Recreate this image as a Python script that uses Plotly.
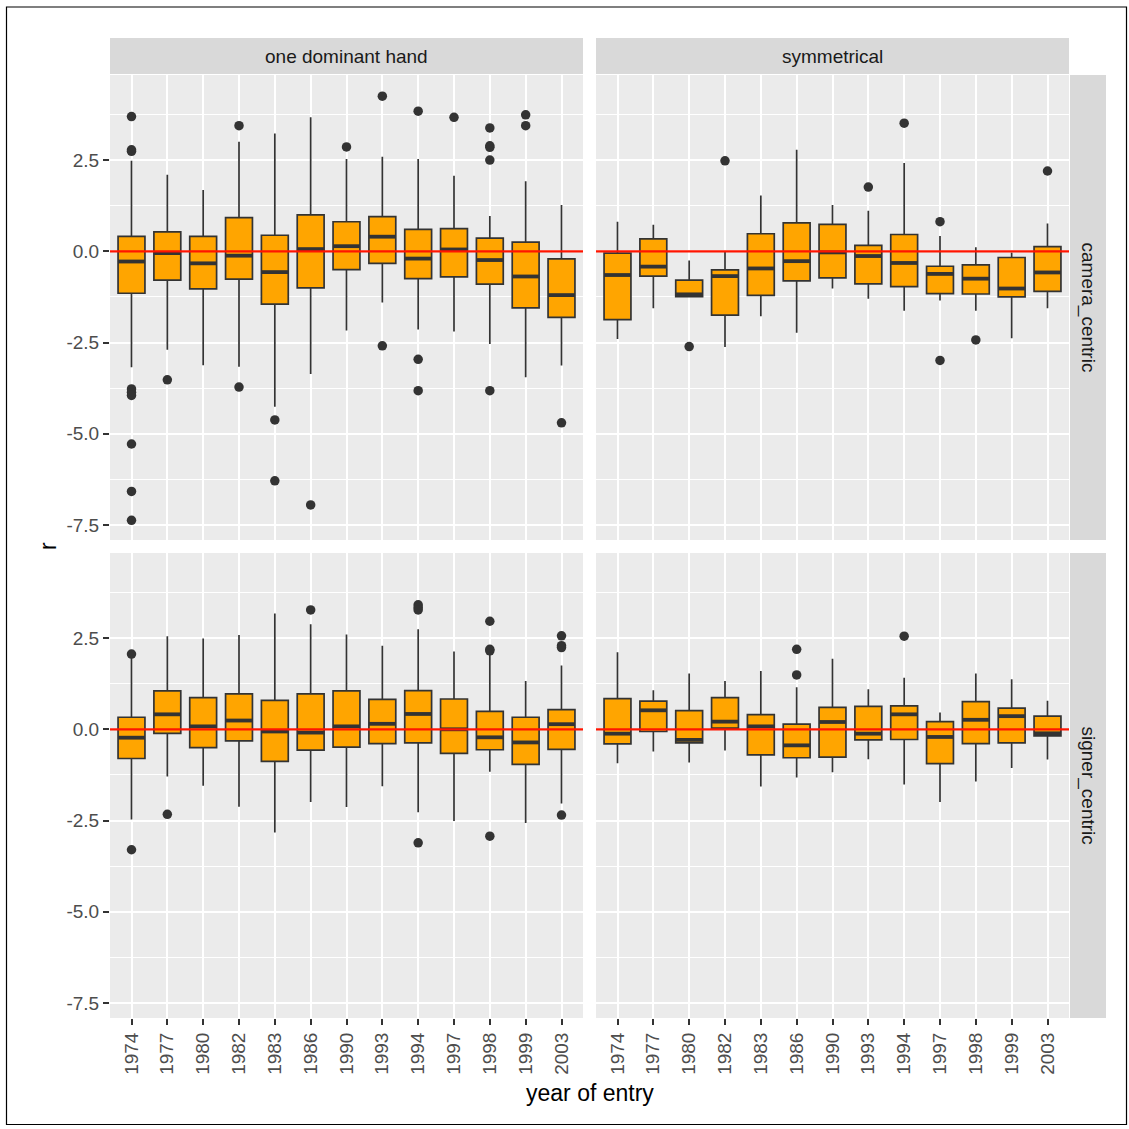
import plotly.graph_objects as go

years = ["1974", "1977", "1980", "1982", "1983", "1986", "1990", "1993", "1994", "1997", "1998", "1999", "2003"]
col_labels = ["one dominant hand", "symmetrical"]
row_labels = ["camera_centric", "signer_centric"]

# Panel: one dominant hand / camera_centric
odh_cam_q1 = [-1.15, -0.79, -1.03, -0.76, -1.45, -1.00, -0.50, -0.33, -0.75, -0.70, -0.90, -1.55, -1.81]
odh_cam_med = [-0.28, -0.05, -0.33, -0.12, -0.57, 0.06, 0.14, 0.40, -0.20, 0.05, -0.24, -0.69, -1.20]
odh_cam_q3 = [0.41, 0.53, 0.41, 0.92, 0.44, 1.00, 0.81, 0.95, 0.60, 0.62, 0.36, 0.25, -0.21]
odh_cam_lo = [-3.18, -2.70, -3.12, -3.16, -4.26, -3.36, -2.17, -1.40, -2.14, -2.20, -2.54, -3.45, -3.13]
odh_cam_hi = [2.48, 2.10, 1.68, 3.00, 3.23, 3.67, 2.53, 2.59, 2.53, 2.07, 0.97, 1.92, 1.27]
odh_cam_out = [[3.69, 2.78, 2.74, -3.77, -3.86, -3.95, -5.28, -6.58, -7.37], [-3.52], [], [3.44, -3.72],
               [-4.62, -6.29], [-6.95], [2.86], [4.25, -2.59], [3.84, -2.96, -3.82], [3.67],
               [3.38, 2.89, 2.85, 2.50, -3.82], [3.74, 3.44], [-4.70]]

# Panel: symmetrical / camera_centric
sym_cam_q1 = [-1.87, -0.68, -1.24, -1.75, -1.21, -0.81, -0.73, -0.89, -0.97, -1.16, -1.17, -1.25, -1.10]
sym_cam_med = [-0.65, -0.42, -1.18, -0.68, -0.47, -0.27, -0.03, -0.13, -0.32, -0.62, -0.75, -1.02, -0.58]
sym_cam_q3 = [-0.05, 0.34, -0.79, -0.51, 0.48, 0.78, 0.74, 0.16, 0.46, -0.41, -0.37, -0.17, 0.13]
sym_cam_lo = [-2.40, -1.56, -1.24, -2.62, -1.78, -2.23, -1.02, -1.30, -1.63, -1.35, -1.63, -2.38, -1.56]
sym_cam_hi = [0.81, 0.73, -0.25, 0.00, 1.53, 2.78, 1.27, 1.11, 2.42, 0.42, 0.11, -0.03, 0.76]
sym_cam_out = [[], [], [-2.61], [2.48], [], [], [], [1.76], [3.51], [0.81, -2.99], [-2.43], [], [2.20]]

# Panel: one dominant hand / signer_centric
odh_sig_q1 = [-0.80, -0.11, -0.50, -0.32, -0.88, -0.57, -0.49, -0.39, -0.37, -0.66, -0.56, -0.96, -0.55]
odh_sig_med = [-0.23, 0.41, 0.08, 0.24, -0.06, -0.09, 0.08, 0.15, 0.42, 0.00, -0.22, -0.36, 0.14]
odh_sig_q3 = [0.33, 1.05, 0.87, 0.97, 0.79, 0.97, 1.05, 0.82, 1.06, 0.83, 0.49, 0.33, 0.54]
odh_sig_lo = [-2.47, -1.29, -1.55, -2.12, -2.83, -1.99, -2.13, -1.56, -2.27, -2.51, -1.16, -2.57, -2.03]
odh_sig_hi = [1.97, 2.55, 2.49, 2.58, 3.17, 2.88, 2.60, 2.29, 2.74, 2.13, 2.05, 1.32, 1.75]
odh_sig_out = [[2.06, -3.30], [-2.33], [], [], [], [3.27], [], [], [3.41, 3.34, 3.27, -3.11], [],
               [2.96, 2.19, 2.15, -2.93], [], [2.56, 2.29, 2.24, -2.35]]

# Panel: symmetrical / signer_centric
sym_sig_q1 = [-0.40, -0.06, -0.37, 0.03, -0.70, -0.78, -0.76, -0.29, -0.28, -0.94, -0.39, -0.37, -0.18]
sym_sig_med = [-0.12, 0.52, -0.29, 0.21, 0.08, -0.44, 0.20, -0.12, 0.41, -0.21, 0.26, 0.36, -0.11]
sym_sig_q3 = [0.84, 0.77, 0.51, 0.87, 0.40, 0.14, 0.60, 0.63, 0.64, 0.21, 0.76, 0.58, 0.36]
sym_sig_lo = [-0.93, -0.61, -0.91, -0.58, -1.57, -1.32, -1.18, -0.82, -1.51, -1.99, -1.43, -1.06, -0.83]
sym_sig_hi = [2.11, 1.07, 1.53, 1.32, 1.60, 1.15, 1.93, 1.10, 1.41, 0.46, 1.53, 1.37, 0.78]
sym_sig_out = [[], [], [], [], [], [2.19, 1.49], [], [], [2.55], [], [], [], []]

y_ticks = [-7.5, -5.0, -2.5, 0.0, 2.5]
y_tick_text = ["-7.5", "-5.0", "-2.5", "0.0", "2.5"]
y_minor = [-6.25, -3.75, -1.25, 1.25, 3.75]

panels = [
    ("x", "y", odh_cam_q1, odh_cam_med, odh_cam_q3, odh_cam_lo, odh_cam_hi, odh_cam_out),
    ("x2", "y2", sym_cam_q1, sym_cam_med, sym_cam_q3, sym_cam_lo, sym_cam_hi, sym_cam_out),
    ("x3", "y3", odh_sig_q1, odh_sig_med, odh_sig_q3, odh_sig_lo, odh_sig_hi, odh_sig_out),
    ("x4", "y4", sym_sig_q1, sym_sig_med, sym_sig_q3, sym_sig_lo, sym_sig_hi, sym_sig_out),
]

FONT = "Liberation Sans, Arial, Helvetica, sans-serif"
BOX_W = 0.75
pos = list(range(len(years)))

fig = go.Figure()
for xa, ya, q1, med, q3, lo, hi, outs in panels:
    fig.add_trace(go.Box(
        x=pos, q1=q1, median=med, q3=q3, lowerfence=lo, upperfence=hi,
        width=BOX_W, boxpoints=False, whiskerwidth=0,
        fillcolor="#FFA500", line=dict(color="#333333", width=1.7),
        xaxis=xa, yaxis=ya, showlegend=False, hoverinfo="skip"))
    mx, my = [], []
    for i, m in enumerate(med):
        mx += [i - BOX_W / 2, i + BOX_W / 2, None]
        my += [m, m, None]
    fig.add_trace(go.Scatter(x=mx, y=my, mode="lines", line=dict(color="#333333", width=3.8),
                             xaxis=xa, yaxis=ya, showlegend=False, hoverinfo="skip"))
    ox, oy = [], []
    for i, vals in enumerate(outs):
        for v in vals:
            ox.append(i)
            oy.append(v)
    fig.add_trace(go.Scatter(x=ox, y=oy, mode="markers", marker=dict(color="#333333", size=9.5),
                             xaxis=xa, yaxis=ya, showlegend=False, hoverinfo="skip"))
    fig.add_trace(go.Scatter(x=[-0.6, len(years) - 0.4], y=[0, 0], mode="lines",
                             line=dict(color="#FF1500", width=2.2),
                             xaxis=xa, yaxis=ya, showlegend=False, hoverinfo="skip"))

W, H = 1129, 1129
L, R, T, B = 110, 23, 38, 111
PW, PH = W - L - R, H - T - B


def px_x(p):
    return (p - L) / PW


def px_y(p):
    return (H - B - p) / PH


xdom_left = [px_x(110), px_x(583)]
xdom_right = [px_x(596), px_x(1069)]
ydom_top = [px_y(540), px_y(75)]
ydom_bot = [px_y(1018), px_y(553)]

xcommon = dict(range=[-0.6, len(years) - 0.4], tickmode="array", tickvals=pos, ticktext=years,
               showgrid=True, gridcolor="white", gridwidth=1.7, zeroline=False,
               tickangle=-90, tickfont=dict(family=FONT, size=19, color="#4D4D4D"),
               ticks="outside", ticklen=6, tickwidth=1.5, tickcolor="#333333", showline=False,
               fixedrange=True)
ycommon = dict(range=[-7.91, 4.83], tickmode="array", tickvals=y_ticks, ticktext=y_tick_text,
               showgrid=True, gridcolor="white", gridwidth=1.7, zeroline=False,
               minor=dict(tickmode="array", tickvals=y_minor, showgrid=True, gridcolor="white",
                          gridwidth=0.9, ticks=""),
               tickfont=dict(family=FONT, size=19, color="#4D4D4D"),
               ticks="outside", ticklen=6, tickwidth=1.5, tickcolor="#333333", showline=False,
               fixedrange=True)

fig.update_layout(
    width=W, height=H,
    margin=dict(l=L, r=R, t=T, b=B, pad=0),
    paper_bgcolor="white", plot_bgcolor="#EBEBEB",
    font=dict(family=FONT),
    xaxis=dict(xcommon, domain=xdom_left, anchor="y", showticklabels=False, ticks=""),
    xaxis2=dict(xcommon, domain=xdom_right, anchor="y2", showticklabels=False, ticks=""),
    xaxis3=dict(xcommon, domain=xdom_left, anchor="y3"),
    xaxis4=dict(xcommon, domain=xdom_right, anchor="y4"),
    yaxis=dict(ycommon, domain=ydom_top, anchor="x"),
    yaxis2=dict(ycommon, domain=ydom_top, anchor="x2", showticklabels=False, ticks=""),
    yaxis3=dict(ycommon, domain=ydom_bot, anchor="x3"),
    yaxis4=dict(ycommon, domain=ydom_bot, anchor="x4", showticklabels=False, ticks=""),
)

shapes = []
annotations = []
strip_fill = "#D9D9D9"
# column strips
for dom, lab in zip([xdom_left, xdom_right], col_labels):
    shapes.append(dict(type="rect", xref="paper", yref="paper", x0=dom[0], x1=dom[1],
                       y0=px_y(74), y1=px_y(38), fillcolor=strip_fill, line=dict(width=0), layer="below"))
    annotations.append(dict(text=lab, xref="paper", yref="paper", x=(dom[0] + dom[1]) / 2,
                            y=(px_y(74) + px_y(38)) / 2, showarrow=False, xanchor="center", yanchor="middle",
                            font=dict(family=FONT, size=19, color="#1A1A1A")))
# row strips
for dom, lab in zip([ydom_top, ydom_bot], row_labels):
    shapes.append(dict(type="rect", xref="paper", yref="paper", x0=px_x(1070), x1=px_x(1106),
                       y0=dom[0], y1=dom[1], fillcolor=strip_fill, line=dict(width=0), layer="below"))
    annotations.append(dict(text=lab, xref="paper", yref="paper", x=(px_x(1070) + px_x(1106)) / 2,
                            y=(dom[0] + dom[1]) / 2, showarrow=False, xanchor="center", yanchor="middle",
                            textangle=90, font=dict(family=FONT, size=19, color="#1A1A1A")))
# axis titles
annotations.append(dict(text="r", xref="paper", yref="paper", x=px_x(48), y=px_y(546), showarrow=False,
                        xanchor="center", yanchor="middle", textangle=-90,
                        font=dict(family=FONT, size=23, color="black")))
annotations.append(dict(text="year of entry", xref="paper", yref="paper", x=px_x(590), y=px_y(1093),
                        showarrow=False, xanchor="center", yanchor="middle",
                        font=dict(family=FONT, size=23, color="black")))
# outer frame
shapes.append(dict(type="rect", xref="paper", yref="paper", x0=px_x(6.5), x1=px_x(1126.5),
                   y0=px_y(1124.5), y1=px_y(7), fillcolor="rgba(0,0,0,0)",
                   line=dict(color="black", width=1.2), layer="above"))

fig.update_layout(shapes=shapes, annotations=annotations)
fig.write_html("out.html",
               config={"displayModeBar": False},
               post_script="document.body.style.margin='0';document.body.style.padding='0';"
                           "document.documentElement.style.overflow='hidden';")
